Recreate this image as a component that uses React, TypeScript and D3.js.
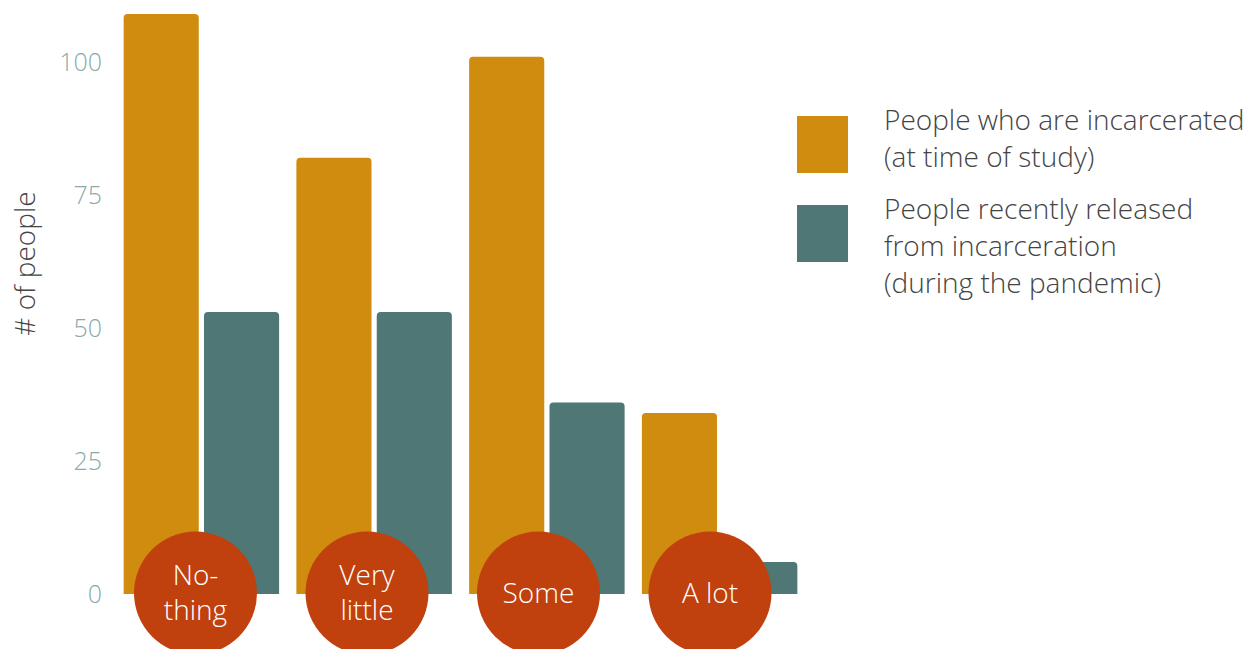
import React from "react";
import * as d3 from "d3";

const categories = ["Nothing", "Very little", "Some", "A lot"];
const circleLabels = [["No-", "thing"], ["Very", "little"], ["Some"], ["A lot"]];
const seriesKeys = ["incarcerated", "released"];
const incarcerated = [109, 82, 101, 34];
const released = [53, 53, 36, 6];
const yTicks = [0, 25, 50, 75, 100];
const legendLabels = [
  ["People who are incarcerated", "(at time of study)"],
  ["People recently released", "from incarceration", "(during the pandemic)"],
];

const W = 1259;
const H = 649;
const COLORS = ["#cf8c0e", "#4e7775"];
const CIRCLE = "#c0400e";
const FONT = "'Open Sans', 'Noto Sans', sans-serif";

function topRoundedRect(x: number, y: number, w: number, h: number, r: number) {
  const rr = Math.min(r, h, w / 2);
  return `M${x},${y + h}V${y + rr}Q${x},${y} ${x + rr},${y}H${x + w - rr}Q${x + w},${y} ${x + w},${y + rr}V${y + h}Z`;
}

export default function App() {
  const x = d3.scaleBand<string>().domain(categories).range([115, 806]).paddingInner(0.1).paddingOuter(0.05);
  const xs = d3.scaleBand<string>().domain(seriesKeys).range([0, x.bandwidth()]).paddingInner(0.065);
  const xc = d3.scalePoint<string>().domain(categories).range([195.5, 710]);
  const y = d3.scaleLinear().domain([0, 100]).range([594, 62]);
  const values = [incarcerated, released];

  return (
    <svg width={W} height={H} style={{ position: "absolute", left: 0, top: 0, background: "#fff" }} fontFamily={FONT} fontWeight={300}>
      {/* y axis tick labels */}
      {yTicks.map((t) => (
        <text key={t} x={102} y={y(t)} dy="0.35em" textAnchor="end" fontSize={25} fill="#8aaaa8">
          {t}
        </text>
      ))}
      <text
        transform={`translate(25,${263.5}) rotate(-90)`}
        textAnchor="middle"
        dy="0.35em"
        fontSize={28}
        fill="#444"
      >
        # of people
      </text>

      {/* bars */}
      {categories.map((c, i) => (
        <g key={c} transform={`translate(${x(c)},0)`}>
          {seriesKeys.map((k, j) => {
            const v = values[j][i];
            const bx = xs(k)!;
            const by = y(v);
            return (
              <path key={k} d={topRoundedRect(bx, by, xs.bandwidth(), y(0) - by, 4)} fill={COLORS[j]} />
            );
          })}
        </g>
      ))}

      {/* category circles */}
      {categories.map((c, i) => {
        const cx = xc(c)!;
        const cy = y(0) - 1;
        const lines = circleLabels[i];
        const lh = 35;
        return (
          <g key={c}>
            <circle cx={cx} cy={cy} r={61.5} fill={CIRCLE} />
            {lines.map((l, li) => (
              <text
                key={li}
                x={cx}
                y={cy + (li - (lines.length - 1) / 2) * lh}
                dy="0.35em"
                textAnchor="middle"
                fontSize={28}
                fill="#fff"
              >
                {l}
              </text>
            ))}
          </g>
        );
      })}

      {/* legend */}
      {legendLabels.map((lines, i) => {
        const top = i === 0 ? 116 : 205;
        const textTop = i === 0 ? 120.5 : 209.5;
        return (
          <g key={i}>
            <rect x={797} y={top} width={51} height={57} fill={COLORS[i]} />
            {lines.map((l, li) => (
              <text key={li} x={884} y={textTop + li * 37} dy="0.35em" fontSize={28} fill="#444">
                {l}
              </text>
            ))}
          </g>
        );
      })}
    </svg>
  );
}
